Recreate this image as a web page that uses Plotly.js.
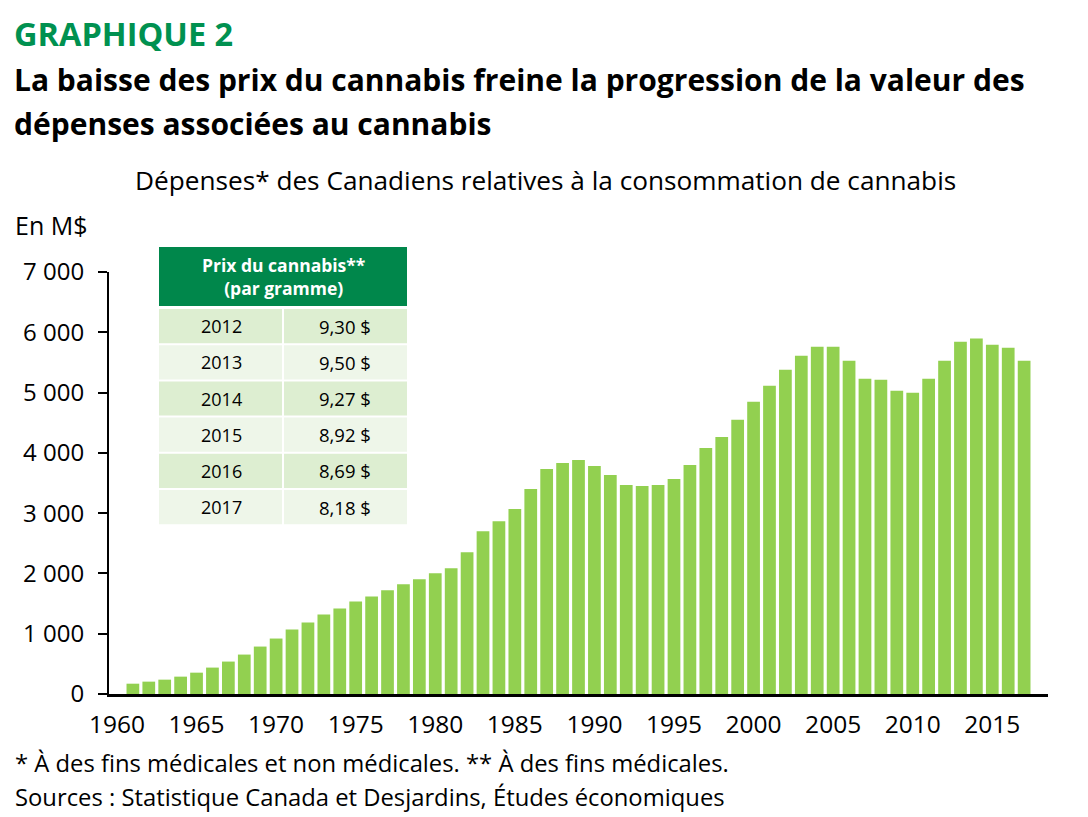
<!DOCTYPE html>
<html><head><meta charset="utf-8">
<script src="https://cdn.plot.ly/plotly-3.0.1.min.js"></script>
<style>html,body{margin:0;padding:0;background:#fff}</style>
</head><body>
<div id="chart" style="width:1088px;height:817px"></div>
<script>
// ---- data ----
const years = [1961,1962,1963,1964,1965,1966,1967,1968,1969,1970,1971,1972,1973,1974,1975,1976,1977,1978,1979,1980,1981,1982,1983,1984,1985,1986,1987,1988,1989,1990,1991,1992,1993,1994,1995,1996,1997,1998,1999,2000,2001,2002,2003,2004,2005,2006,2007,2008,2009,2010,2011,2012,2013,2014,2015,2016,2017];
const spending = [171,205,238,288,354,438,538,654,787,920,1070,1186,1320,1420,1536,1619,1719,1819,1902,2002,2085,2351,2700,2867,3067,3400,3732,3832,3882,3782,3632,3466,3449,3466,3566,3799,4082,4265,4548,4847,5113,5379,5612,5762,5762,5529,5230,5213,5030,4997,5230,5529,5845,5895,5795,5745,5529];
const xTickVals = [1960,1965,1970,1975,1980,1985,1990,1995,2000,2005,2010,2015];
const yTickVals = [0,1000,2000,3000,4000,5000,6000,7000];
const priceYears = ['2012','2013','2014','2015','2016','2017'];
const prices = ['9,30 $','9,50 $','9,27 $','8,92 $','8,69 $','8,18 $'];
const tableHeader = 'Prix du cannabis**<br>(par gramme)';

// ---- layout helpers ----
const W = 1088, H = 817;
const L = 109, R = 1048, T = 272, B = 694;
const px = x => (x - L) / (R - L);
const py = y => (B - y) / (B - T);
const FONT = '"Open Sans", Lato, sans-serif';

const annotations = [];
const shapes = [];
function txt(text, x, y, size, opts) {
  annotations.push(Object.assign({
    text: text, xref: 'paper', yref: 'paper', x: px(x), y: py(y),
    xanchor: 'left', yanchor: 'middle', showarrow: false,
    font: {family: FONT, size: size, color: '#000'}
  }, opts || {}));
}
txt('<b>GRAPHIQUE 2</b>', 12, 33, 32.5, {font: {family: FONT, size: 32.5, color: '#009150'}});
txt('<b>La baisse des prix du cannabis freine la progression de la valeur des</b>', 12, 79, 30);
txt('<b>dépenses associées au cannabis</b>', 12, 123, 30);
txt('Dépenses* des Canadiens relatives à la consommation de cannabis', 545, 180, 26.2, {xanchor: 'center'});
txt('En M$', 13, 225, 25);
txt('* À des fins médicales et non médicales. ** À des fins médicales.', 13, 763, 23.8);
txt('Sources : Statistique Canada et Desjardins, Études économiques', 13, 797, 23.8);

// table
const tx0 = 159, tx1 = 407, tmid = 283;
const hy0 = 247, hy1 = 306;
shapes.push({type: 'rect', xref: 'paper', yref: 'paper', x0: px(tx0), x1: px(tx1), y0: py(hy1), y1: py(hy0),
  fillcolor: '#00874B', line: {width: 0}, layer: 'above'});
annotations.push({text: '<b>' + tableHeader + '</b>', xref: 'paper', yref: 'paper', x: px((tx0 + tx1) / 2), y: py((hy0 + hy1) / 2),
  xanchor: 'center', yanchor: 'middle', showarrow: false, font: {family: FONT, size: 17.5, color: '#fff'}});
const rowTop = 309, rowH = 36.2;
priceYears.forEach((yr, i) => {
  const y0 = rowTop + i * rowH, y1 = y0 + rowH - 2;
  const fill = i % 2 === 0 ? '#DDEED1' : '#EEF6E9';
  shapes.push({type: 'rect', xref: 'paper', yref: 'paper', x0: px(tx0), x1: px(tmid - 1), y0: py(y1), y1: py(y0), fillcolor: fill, line: {width: 0}, layer: 'above'});
  shapes.push({type: 'rect', xref: 'paper', yref: 'paper', x0: px(tmid + 1), x1: px(tx1), y0: py(y1), y1: py(y0), fillcolor: fill, line: {width: 0}, layer: 'above'});
  annotations.push({text: yr, xref: 'paper', yref: 'paper', x: px((tx0 + tmid) / 2), y: py((y0 + y1) / 2), xanchor: 'center', yanchor: 'middle', showarrow: false, font: {family: FONT, size: 18, color: '#000'}});
  annotations.push({text: prices[i], xref: 'paper', yref: 'paper', x: px((tmid + tx1) / 2), y: py((y0 + y1) / 2), xanchor: 'center', yanchor: 'middle', showarrow: false, font: {family: FONT, size: 18.5, color: '#000'}});
});

const trace = {
  type: 'bar', x: years, y: spending, width: 0.8,
  marker: {color: '#92D050', line: {width: 0}},
  hoverinfo: 'x+y'
};

const layout = {
  width: W, height: H,
  margin: {l: L, r: W - R, t: T, b: H - B, pad: 0},
  paper_bgcolor: '#fff', plot_bgcolor: '#fff',
  separators: ', ',
  showlegend: false,
  font: {family: FONT, size: 24, color: '#000'},
  xaxis: {
    range: [1959.5, 2018.5], tickvals: xTickVals, ticks: '', showgrid: false, zeroline: false,
    showline: true, linecolor: '#000', linewidth: 3, ticklabelstandoff: 7,
    tickfont: {family: FONT, size: 24.5, color: '#000'}, fixedrange: true
  },
  yaxis: {
    range: [0, 7000], tickvals: yTickVals, tickformat: ',d', ticks: 'outside', ticklen: 9, tickwidth: 2, tickcolor: '#000',
    showgrid: false, zeroline: false, showline: true, linecolor: '#000', linewidth: 2, ticklabelstandoff: 9,
    tickfont: {family: FONT, size: 24, color: '#000'}, fixedrange: true
  },
  annotations: annotations,
  shapes: shapes
};
Plotly.newPlot('chart', [trace], layout, {displayModeBar: false, staticPlot: true});
</script>
</body></html>
